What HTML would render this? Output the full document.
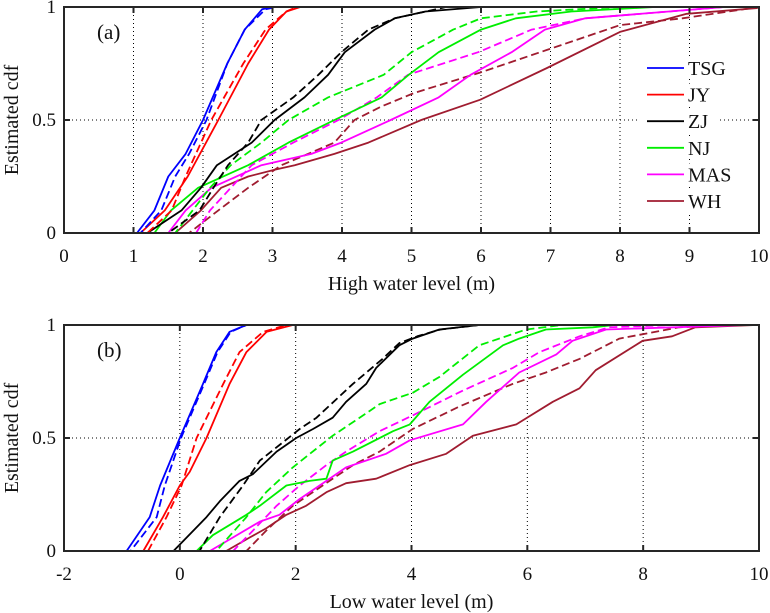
<!DOCTYPE html>
<html><head><meta charset="utf-8"><style>
body{margin:0;background:#fff}
svg{display:block;font-family:"Liberation Serif",serif}
</style></head><body>
<svg id="c" width="770" height="613"></svg>
<script>
// Panel (a) data: high water level quantiles (x) at cdf levels (y)
const aTSG_x=[0,1.05,1.3,1.5,1.75,2.0,2.35,2.6,2.85,3.0,10];
const aTSG_y=[0,0,0.1,0.25,0.35,0.5,0.75,0.9,0.99,1,1];
const aTSGd_x=[0,1.1,1.4,1.6,1.8,2.05,2.35,2.6,2.9,3.05,10];
const aTSGd_y=[0,0,0.1,0.25,0.35,0.5,0.75,0.9,0.99,1,1];
const aJY_x=[0,1.1,1.45,1.78,2.22,2.65,2.95,3.2,3.4,10];
const aJY_y=[0,0,0.1,0.25,0.5,0.75,0.9,0.98,1,1];
const aJYd_x=[0,1.2,1.55,1.75,2.12,2.58,2.9,3.2,3.35,10];
const aJYd_y=[0,0,0.1,0.25,0.5,0.75,0.9,0.98,1,1];
const aZJ_x=[0,1.2,1.69,1.97,2.2,2.7,3.03,3.46,3.8,4.04,4.47,4.76,5.2,6.0,10];
const aZJ_y=[0,0,0.1,0.2,0.3,0.4,0.5,0.6,0.7,0.8,0.9,0.95,0.98,1,1];
const aZJd_x=[0,1.5,1.95,2.15,2.36,2.65,2.84,3.3,3.66,3.99,4.38,4.76,5.5,10];
const aZJd_y=[0,0,0.1,0.2,0.3,0.4,0.5,0.6,0.7,0.8,0.9,0.95,1,1];
const aNJ_x=[0,1.3,1.54,1.93,2.65,3.23,3.89,4.57,4.96,5.39,6.0,6.5,7.3,8.5,10];
const aNJ_y=[0,0,0.1,0.2,0.3,0.4,0.5,0.6,0.7,0.8,0.9,0.95,0.98,1,1];
const aNJd_x=[0,1.6,1.85,2.1,2.4,2.84,3.23,3.8,4.6,5.0,5.6,6.0,6.8,8.0,10];
const aNJd_y=[0,0,0.1,0.2,0.3,0.4,0.5,0.6,0.7,0.8,0.9,0.95,0.98,1,1];
const aMAS_x=[0,1.5,1.75,2.12,2.84,3.56,3.99,4.7,5.39,5.85,6.44,6.92,7.5,9.5,10];
const aMAS_y=[0,0,0.1,0.2,0.3,0.35,0.4,0.5,0.6,0.7,0.8,0.9,0.95,1,1];
const aMASd_x=[0,1.9,2.1,2.4,2.7,3.3,3.95,4.5,4.95,5.96,6.73,7.5,9.5,10];
const aMASd_y=[0,0,0.1,0.2,0.3,0.4,0.5,0.6,0.7,0.8,0.9,0.95,1,1];
const aWH_x=[0,1.6,1.97,2.26,2.65,3.03,3.32,3.89,4.38,5.14,5.99,6.95,8.0,8.96,9.97,10];
const aWH_y=[0,0,0.1,0.2,0.25,0.28,0.3,0.35,0.4,0.5,0.59,0.73,0.89,0.97,0.995,1];
const aWHd_x=[0,1.8,2.22,2.65,3.13,3.89,4.18,4.57,5.04,5.99,6.95,8.0,8.9,10];
const aWHd_y=[0,0,0.1,0.2,0.3,0.4,0.5,0.56,0.62,0.71,0.81,0.92,0.95,1];
// Panel (b) data: low water level
const bTSG_x=[-2,-0.92,-0.52,-0.34,0,0.4,0.63,0.86,1.15,10];
const bTSG_y=[0,0,0.15,0.29,0.5,0.74,0.88,0.97,1,1];
const bTSGd_x=[-2,-0.85,-0.4,-0.26,0.02,0.42,0.65,0.88,1.15,10];
const bTSGd_y=[0,0,0.15,0.29,0.5,0.74,0.88,0.97,1,1];
const bJY_x=[-2,-0.63,-0.29,0,0.17,0.46,0.86,1.15,1.5,1.95,10];
const bJY_y=[0,0,0.15,0.29,0.35,0.5,0.74,0.88,0.97,1,1];
const bJYd_x=[-2,-0.55,-0.23,0.03,0.29,0.75,1.03,1.44,1.84,10];
const bJYd_y=[0,0,0.15,0.29,0.5,0.74,0.88,0.97,1,1];
const bZJ_x=[-2,-0.11,0.12,0.46,0.69,1.03,1.26,1.67,2.01,2.3,2.64,2.87,3.22,3.39,3.79,4.02,4.48,5.17,10];
const bZJ_y=[0,0,0.06,0.15,0.22,0.31,0.34,0.44,0.5,0.54,0.59,0.66,0.74,0.81,0.91,0.94,0.98,1,1];
const bZJd_x=[-2,0.34,0.69,1.09,1.38,2.07,2.36,2.99,3.5,3.79,4.1,4.5,5.17,10];
const bZJd_y=[0,0,0.15,0.29,0.4,0.54,0.59,0.74,0.85,0.92,0.95,0.98,1,1];
const bNJ_x=[-2,0.29,0.57,1.15,1.38,1.84,2.24,2.53,2.64,2.99,3.68,3.97,4.31,4.89,5.58,5.86,6.32,7.13,7.5,10];
const bNJ_y=[0,0,0.07,0.16,0.2,0.29,0.31,0.32,0.4,0.44,0.53,0.56,0.66,0.78,0.91,0.94,0.98,0.99,1,1];
const bNJd_x=[-2,0.63,1.15,1.49,1.95,2.64,3.28,3.45,4.02,4.48,5.17,5.98,6.6,10];
const bNJd_y=[0,0,0.15,0.26,0.37,0.51,0.62,0.65,0.7,0.77,0.91,0.98,1,1];
const bMAS_x=[-2,0.52,0.92,1.38,1.72,2.07,2.53,2.87,3.56,3.97,4.89,5.29,5.86,6.5,6.78,7.36,9.77,10];
const bMAS_y=[0,0,0.06,0.13,0.16,0.23,0.31,0.37,0.43,0.49,0.56,0.66,0.79,0.87,0.93,0.98,1,1];
const bMASd_x=[-2,0.92,1.26,1.67,2.07,2.53,2.87,3.45,4.02,4.89,5.75,6.21,6.9,7.41,8.5,10];
const bMASd_y=[0,0,0.09,0.2,0.29,0.38,0.44,0.53,0.6,0.71,0.81,0.88,0.95,0.99,1,1];
const bWH_x=[-2,0.8,1.21,1.49,1.84,2.18,2.53,2.87,3.39,3.97,4.6,5.06,5.81,6.44,6.9,7.18,7.99,8.5,8.9,9.95,10];
const bWH_y=[0,0,0.06,0.1,0.16,0.2,0.26,0.3,0.32,0.38,0.43,0.51,0.56,0.66,0.72,0.8,0.93,0.95,0.99,1,1];
const bWHd_x=[-2,1.15,1.49,1.95,2.41,2.99,3.45,4.02,4.83,5.75,6.32,6.9,7.59,8.62,9.5,10];
const bWHd_y=[0,0,0.09,0.2,0.28,0.38,0.44,0.54,0.64,0.74,0.79,0.85,0.94,0.99,1,1];
const aTicks=[0,1,2,3,4,5,6,7,8,9,10];
const bTicks=[-2,0,2,4,6,8,10];
const yTicks=[0,0.5,1];
const yTickLabels=["0","0.5","1"];
const names=["TSG","JY","ZJ","NJ","MAS","WH"];
const colors=["#0000ff","#ff0000","#000000","#00ee00","#ff00ff","#a01c30"];

const NS="http://www.w3.org/2000/svg";
const svg=document.getElementById('c');
function mk(t,a,p){const e=document.createElementNS(NS,t);for(const k in a)e.setAttribute(k,a[k]);(p||svg).appendChild(e);return e;}

function panel(id,top,bot,xmin,xmax,ticks,label,tag,series){
  const L=64,R=759;
  const sx=v=>L+(v-xmin)/(xmax-xmin)*(R-L);
  const sy=v=>bot-v*(bot-top);
  const g=mk('g',{});
  
  
  ticks.forEach(t=>{if(t>xmin&&t<xmax){const l=mk('line',{x1:sx(t),x2:sx(t),y1:top,y2:bot,stroke:'#000','stroke-width':1,'stroke-dasharray':'1,3'},g);}});
  const gl=mk('line',{x1:L,x2:R,y1:sy(0.5),y2:sy(0.5),stroke:'#000','stroke-width':1,'stroke-dasharray':'1,3'},g);
  
  series.forEach(s=>{
    const pts=s.x.map((v,i)=>sx(v).toFixed(1)+','+sy(s.y[i]).toFixed(1)).join(' ');
    const p=mk('polyline',{points:pts,fill:'none',stroke:s.c,'stroke-width':1.8,'stroke-dasharray':s.d?'8,4':'none','stroke-linejoin':'round'},g);
    
    
  });
  const fr=mk('rect',{x:L,y:top,width:R-L,height:bot-top,fill:'none',stroke:'#262626','stroke-width':2},g);
  
  ticks.forEach(t=>{
    mk('line',{x1:sx(t),x2:sx(t),y1:bot,y2:bot-6,stroke:'#262626','stroke-width':2},g);
    mk('line',{x1:sx(t),x2:sx(t),y1:top,y2:top+6,stroke:'#262626','stroke-width':2},g);
    const tx=mk('text',{x:sx(t),y:bot+29,'font-size':19,'text-anchor':'middle',fill:'#111'},g);
    tx.textContent=String(t);
    
  });
  yTicks.forEach((t,i)=>{
    mk('line',{x1:L,x2:L+6,y1:sy(t),y2:sy(t),stroke:'#262626','stroke-width':2},g);
    mk('line',{x1:R,x2:R-6,y1:sy(t),y2:sy(t),stroke:'#262626','stroke-width':2},g);
    const tx=mk('text',{x:56,y:sy(t)+6,'font-size':19,'text-anchor':'end',fill:'#111'},g);
    tx.textContent=yTickLabels[i];
    
  });
  const xl=mk('text',{x:(L+R)/2,y:bot+57,'font-size':20,'text-anchor':'middle',fill:'#111'},g);
  xl.textContent=label;
  const yl=mk('text',{x:0,y:0,'font-size':20,'text-anchor':'middle',fill:'#111',transform:`translate(18,${(top+bot)/2}) rotate(-90)`},g);
  yl.textContent='Estimated cdf';
  const pt=mk('text',{x:97,y:top+32,'font-size':21,fill:'#111'},g);
  pt.textContent=tag;
}
function S(x,y,c,d,n){return {x,y,c,d,n};}
panel('panel-a',7,233,0,10,aTicks,'High water level (m)','(a)',[
 S(aWH_x,aWH_y,colors[5],0,'wh-solid'),S(aWHd_x,aWHd_y,colors[5],1,'wh-dashed'),
 S(aMAS_x,aMAS_y,colors[4],0,'mas-solid'),S(aMASd_x,aMASd_y,colors[4],1,'mas-dashed'),
 S(aNJ_x,aNJ_y,colors[3],0,'nj-solid'),S(aNJd_x,aNJd_y,colors[3],1,'nj-dashed'),
 S(aZJ_x,aZJ_y,colors[2],0,'zj-solid'),S(aZJd_x,aZJd_y,colors[2],1,'zj-dashed'),
 S(aJY_x,aJY_y,colors[1],0,'jy-solid'),S(aJYd_x,aJYd_y,colors[1],1,'jy-dashed'),
 S(aTSG_x,aTSG_y,colors[0],0,'tsg-solid'),S(aTSGd_x,aTSGd_y,colors[0],1,'tsg-dashed')]);
panel('panel-b',325,551,-2,10,bTicks,'Low water level (m)','(b)',[
 S(bWH_x,bWH_y,colors[5],0,'wh-solid'),S(bWHd_x,bWHd_y,colors[5],1,'wh-dashed'),
 S(bMAS_x,bMAS_y,colors[4],0,'mas-solid'),S(bMASd_x,bMASd_y,colors[4],1,'mas-dashed'),
 S(bNJ_x,bNJ_y,colors[3],0,'nj-solid'),S(bNJd_x,bNJd_y,colors[3],1,'nj-dashed'),
 S(bZJ_x,bZJ_y,colors[2],0,'zj-solid'),S(bZJd_x,bZJd_y,colors[2],1,'zj-dashed'),
 S(bJY_x,bJY_y,colors[1],0,'jy-solid'),S(bJYd_x,bJYd_y,colors[1],1,'jy-dashed'),
 S(bTSG_x,bTSG_y,colors[0],0,'tsg-solid'),S(bTSGd_x,bTSGd_y,colors[0],1,'tsg-dashed')]);
const lg=mk('g',{});


names.forEach((n,i)=>{
  const y=68+i*26.6;
  mk('rect',{x:640,y:y-11,width:80,height:22,fill:'#fff'},lg);
  const ln=mk('line',{x1:647,x2:684,y1:y,y2:y,stroke:colors[i],'stroke-width':1.8},lg);
  
  const t=mk('text',{x:688,y:y+7,'font-size':20,fill:'#111'},lg);
  t.textContent=n;
  
});
</script>
</body></html>
